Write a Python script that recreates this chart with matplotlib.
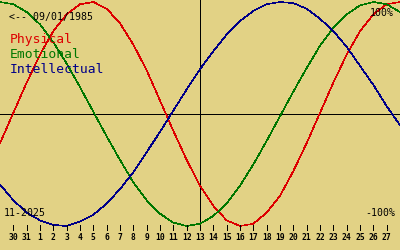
import matplotlib
matplotlib.use("Agg")
import matplotlib.pyplot as plt

# day slots across the chart (slot k sits at k/30 of the width)
slots = list(range(0, 31))
day_labels = ['30', '31'] + [str(d) for d in range(1, 28)]
tick_slots = list(range(1, 30))

# biorhythm values in percent at each slot
physical = [-26, 1, 28, 53, 74, 89, 98, 100, 94, 81, 62, 39, 12, -15, -41, -64,
            -82, -95, -100, -98, -88, -73, -51, -26, 1, 28, 53, 74, 89, 98, 100]
emotional = [100, 98, 91, 80, 64, 45, 24, 2, -20, -41, -61, -77, -89, -97, -100, -98,
             -91, -80, -64, -45, -24, -2, 20, 41, 61, 77, 89, 97, 100, 98, 91]
intellectual = [-63, -77, -88, -95, -99, -100, -96, -90, -80, -67, -52, -34, -16, 3, 22, 40,
                56, 71, 83, 92, 98, 100, 99, 94, 85, 74, 60, 43, 26, 7, -10]
today_slot = 15

bg = '#E2D285'
W, H = 400, 250

fig = plt.figure(figsize=(4, 2.5), dpi=100, facecolor=bg)
ax = fig.add_axes([0, 0, 1, 1])
ax.set_facecolor(bg)
ax.axis('off')

# 1.12 px per percent, zero line at y=114 px from the top
ax.set_xlim(0, 30)
ax.set_ylim(-(H - 114) / 1.12, 114 / 1.12)

ax.axhline(0, color='black', lw=0.6, antialiased=False)
ax.vlines(today_slot, -103.5, 110, color='black', lw=0.6, antialiased=False)

ax.plot(slots, physical, color='#DD0000', lw=0.45, antialiased=False)
ax.plot(slots, emotional, color='#007700', lw=0.45, antialiased=False)
ax.plot(slots, intellectual, color='#000088', lw=0.45, antialiased=False)

# day ticks and labels along the bottom
ax.vlines(tick_slots, -103.6, -99.2, color='black', lw=0.6, antialiased=False)
for k, lab in zip(tick_slots, day_labels):
    ax.text(k, (114 - 240) / 1.12, lab, ha='center', va='baseline',
            family='DejaVu Sans Mono', fontsize=5.8, fontweight='bold', color='black')


def px(x, y):
    return x / W, 1 - y / H


mono = 'DejaVu Sans Mono'
fig.text(*px(9, 20), '<-- 09/01/1985', family=mono, fontsize=7.1, va='baseline')
fig.text(*px(10, 42.5), 'Physical', family=mono, fontsize=9.4, color='#DD0000', va='baseline')
fig.text(*px(10, 58), 'Emotional', family=mono, fontsize=9.4, color='#007700', va='baseline')
fig.text(*px(10, 73), 'Intellectual', family=mono, fontsize=9.4, color='#000088', va='baseline')
fig.text(*px(4, 216), '11-2025', family=mono, fontsize=7.1, va='baseline')
fig.text(*px(394, 16), '100%', family=mono, fontsize=7.1, ha='right', va='baseline')
fig.text(*px(395, 216), '-100%', family=mono, fontsize=7.1, ha='right', va='baseline')

fig.savefig('out.png', dpi=100, facecolor=bg)
